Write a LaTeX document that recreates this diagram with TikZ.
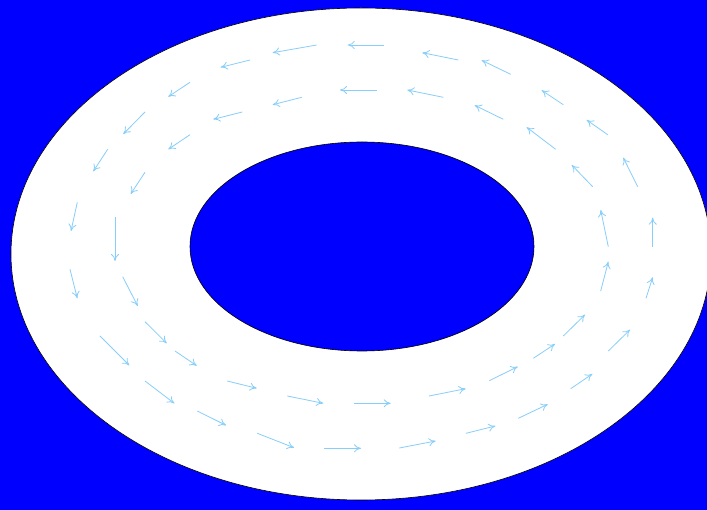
\documentclass[tikz,border=0pt]{standalone}
\usetikzlibrary{arrows.meta}
\definecolor{bg}{RGB}{0,0,255}
\definecolor{arr}{RGB}{135,206,250}
\begin{document}
\begin{tikzpicture}[x=1pt,y=-1pt,
  vec/.style={draw=arr, line width=0.8pt, -{To[length=7pt,width=8pt]}},
  rim/.style={draw=black, line width=0.6pt}]
\useasboundingbox (0,0) rectangle (707,510);
\clip (0,0) rectangle (707,510);
\fill[bg] (0,0) rectangle (707,510);
\path[rim, fill=white] (361,254) ellipse [x radius=350, y radius=246];
\path[rim, fill=bg] (362,246.5) ellipse [x radius=172, y radius=104.5];
% outer ring
\foreach \a/\b/\c/\d in {
  384/45/347.7/45, 316.7/45/272.7/52.7, 250/60/220.7/67.3, 190/82.3/168.3/96.7,
  145/112/123.3/134, 107.7/149.3/93.3/171.3, 77.3/202.3/71/231, 70/269.3/77.3/298.3,
  100/336/129.3/365.3, 145/381/174.3/403.3, 197.3/411/226/425.3, 257.3/433.3/294/447.7,
  324.3/448.3/361/448.3, 399.3/448/435.7/441, 466/433.3/495.3/426, 518.3/418.3/547.7/404.3,
  570.7/388.7/592.3/374, 608.3/351/630/329.7, 646/298.3/652.7/277.3, 652.7/246.7/652.7/217.7,
  637.7/186.7/623.3/157.7, 607.7/134.7/586.7/120, 563.3/104.7/541.7/90.3, 510.7/74.3/481.7/60.3,
  458.3/60/422.3/52.7}
  \draw[vec] (\a,\b) -- (\c,\d);
% inner ring
\foreach \a/\b/\c/\d in {
  376.7/90/340/90, 301.7/97.3/272.7/104.7, 242.3/112/213.3/119.3, 190/134.7/168.3/149.3,
  145/172.3/130.7/194, 115/217.3/115/261, 122.7/276.7/137.7/306, 145/321.7/166.7/343.3,
  175/351/196.7/365.7, 227.3/381/256.7/388.3, 287.3/396/323.3/403.3, 354.3/403.3/390.7/403.3,
  429/396/465.7/388.7, 489.3/380.7/517.7/366.7, 533.3/358.3/555/344, 563.3/336/585/314.7,
  600.7/291/608.3/261.7, 608.3/246.7/600.7/210, 592.7/186.7/571.7/165, 555.7/149.3/526.7/127.3,
  503.3/119.3/474.7/105.3, 443.3/97.3/407.3/90}
  \draw[vec] (\a,\b) -- (\c,\d);
\end{tikzpicture}
\end{document}
